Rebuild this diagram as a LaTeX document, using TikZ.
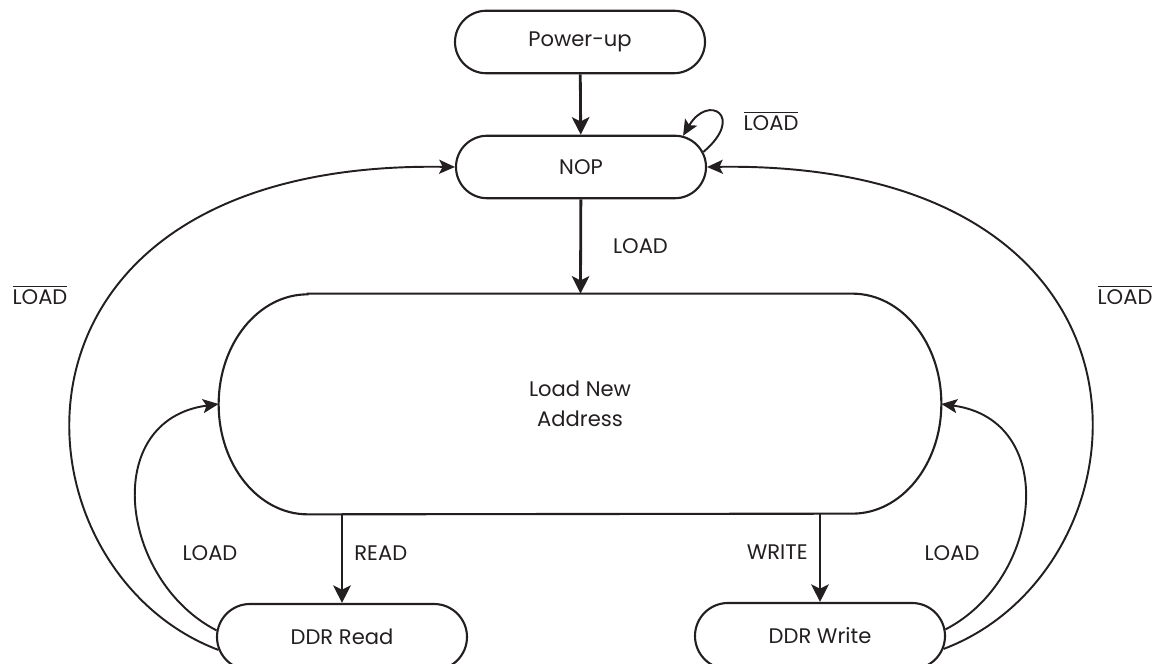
\documentclass[tikz,border=0pt]{standalone}
\usepackage{fontspec}
\setmainfont{Poppins}
\usepackage{tikz}
\usetikzlibrary{positioning,shapes.misc,arrows.meta}
\definecolor{InkBlack}{HTML}{231F20}
\tikzset{
  state/.style={rounded rectangle,draw=InkBlack,line width=1.2pt,
    minimum width=5.0cm,minimum height=1.25cm,inner sep=0pt,
    font=\fontsize{12}{17}\selectfont\color{InkBlack}},
  bigstate/.style={rectangle,draw=none,minimum width=14.44cm,minimum height=4.4cm,
    align=center,font=\fontsize{12}{17}\selectfont\color{InkBlack}},
  boxline/.style={draw=InkBlack,line width=1.2pt},
  arr/.style={draw=InkBlack,line width=1.6pt,-{Stealth[length=10pt,width=10pt,inset=2.5pt]}},
  carr/.style={draw=InkBlack,line width=1.1pt,-{Stealth[length=9pt,width=8pt,inset=2pt]}},
  lbl/.style={inner sep=0pt,font=\fontsize{12}{14}\selectfont\color{InkBlack}},
}

\begin{document}
\begin{tikzpicture}
  \useasboundingbox (0,0) rectangle (23.18,13.28);
  % states
  \node[state] (pwr) at (11.60,12.44) {Power-up};
  \node[state] (nop) at (11.62, 9.94) {NOP};
  \node[bigstate] (lna) at (11.60, 5.20) {Load New\\Address};
  \draw[boxline] ([xshift=1.78cm]lna.north west) -- ([xshift=-1.78cm]lna.north east)
    arc[start angle=90,end angle=-90,x radius=1.78cm,y radius=2.2cm]
    -- ([xshift=1.78cm]lna.south west)
    arc[start angle=270,end angle=90,x radius=1.78cm,y radius=2.2cm] -- cycle;
  \node[state,minimum height=1.32cm] (dread) at (6.84,0.54) {DDR Read};
  \node[state,minimum height=1.32cm] (dwrite) at (16.40,0.56) {DDR Write};
  % straight transitions
  \draw[arr] (pwr) -- (nop);
  \draw[arr] (nop) -- node[lbl,right=0.62cm] (lblload) {LOAD} (lna);
  \draw[arr] (dread.north |- lna.south) -- node[lbl,right=0.22cm,yshift=0.12cm] (lblread) {READ} (dread.north);
  \draw[arr] (dwrite.north |- lna.south) -- node[lbl,left=0.22cm,yshift=0.12cm] (lblwrite) {WRITE} (dwrite.north);
  % self loop
  \draw[carr] (nop.7) .. controls +(0.85,0.72) and +(0.50,0.85) .. (nop.17);
  \node[lbl] (lblnloop) at (15.42,10.86) {$\overline{\mbox{LOAD}}$};
  % back to load new address
  \draw[carr] (dread.177) .. controls +(-1.94,1.0) and +(-2.38,-0.32) .. (lna.west);
  \draw[carr] (dwrite.3) .. controls +(1.94,1.0) and +(2.38,-0.32) .. (lna.east);
  \node[lbl] (lblrl) at (4.20,2.22) {LOAD};
  \node[lbl] (lblwl) at (19.04,2.22) {LOAD};
  % back to nop
  \draw[carr] (dread.186) .. controls +(-4.30,1.62) and +(-9.60,0.14) .. (nop.west);
  \draw[carr] (dwrite.-6) .. controls +(4.30,1.62) and +(9.60,0.14) .. (nop.east);
  \node[lbl] (lblrn) at (0.80,7.38) {$\overline{\mbox{LOAD}}$};
  \node[lbl] (lblwn) at (22.50,7.38) {$\overline{\mbox{LOAD}}$};
\end{tikzpicture}
\end{document}
